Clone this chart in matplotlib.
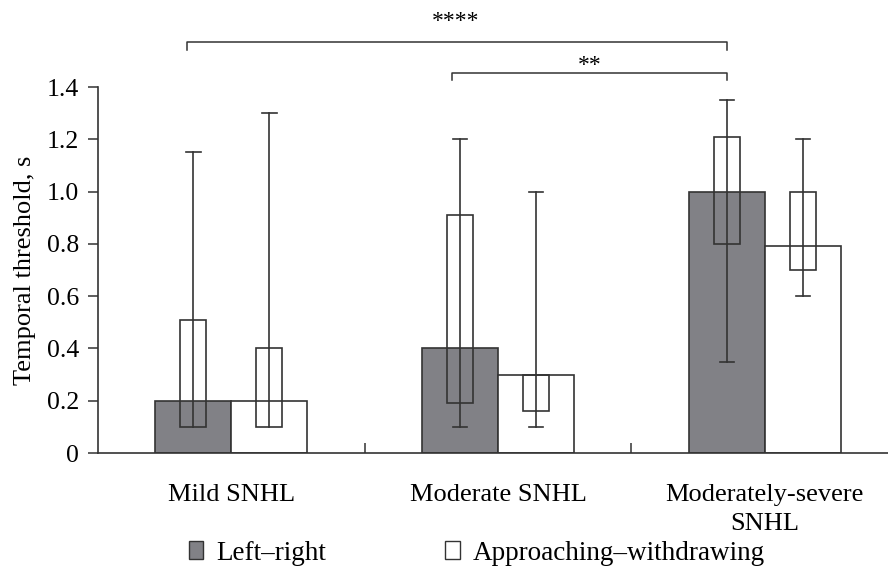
import numpy as np
import matplotlib
matplotlib.use("Agg")
import matplotlib.pyplot as plt
from matplotlib.patches import Patch

plt.rcParams["font.family"] = ["Liberation Serif", "DejaVu Serif"]

groups = ["Mild SNHL", "Moderate SNHL", "Moderately-severe\nSNHL"]
series = ["Left\u2013right", "Approaching\u2013withdrawing"]
median_lr = [0.2, 0.4, 1.0]
median_aw = [0.2, 0.3, 0.79]
q1_lr = [0.1, 0.19, 0.8]
q3_lr = [0.51, 0.91, 1.21]
q1_aw = [0.1, 0.16, 0.7]
q3_aw = [0.4, 0.3, 1.0]
min_lr = [0.1, 0.1, 0.35]
max_lr = [1.15, 1.2, 1.35]
min_aw = [0.1, 0.1, 0.6]
max_aw = [1.3, 1.0, 1.2]

GRAY = "#818186"
EDGE = "#333333"
BW = 0.285     # bar width
BOXW = 0.098   # IQR box width
CAPW = 0.054

fig = plt.figure(figsize=(8.88, 5.71), dpi=100)
ax = fig.add_axes([98 / 888, 1 - 453 / 571, 790 / 888, 366 / 571])

x = np.arange(len(groups)) + 0.5
x_lr = x - BW / 2
x_aw = x + BW / 2
ax.bar(x_lr, median_lr, BW, color=GRAY, edgecolor=EDGE, lw=1.2, zorder=2)
ax.bar(x_aw, median_aw, BW, color="white", edgecolor=EDGE, lw=1.2, zorder=2)


def box(xc, lo, hi, wmin, wmax):
    ax.bar(xc, hi - lo, BOXW, bottom=lo, facecolor="none", edgecolor=EDGE,
           lw=1.2, zorder=3)
    ax.plot([xc, xc], [wmin, wmax], color=EDGE, lw=1.2, zorder=3)
    ax.plot([xc - CAPW / 2, xc + CAPW / 2], [wmax, wmax], color=EDGE, lw=1.2, zorder=3)
    if wmin < lo - 1e-6:
        ax.plot([xc - CAPW / 2, xc + CAPW / 2], [wmin, wmin], color=EDGE, lw=1.2, zorder=3)


for i in range(len(groups)):
    box(x_lr[i], q1_lr[i], q3_lr[i], min_lr[i], max_lr[i])
    box(x_aw[i], q1_aw[i], q3_aw[i], min_aw[i], max_aw[i])

ax.set_xlim(0, 790 / 266.7)
ax.set_ylim(0, 1.4)
ax.spines["top"].set_visible(False)
ax.spines["right"].set_visible(False)
for s in ["left", "bottom"]:
    ax.spines[s].set_color(EDGE)
    ax.spines[s].set_linewidth(1.2)

yt = np.arange(0, 1.41, 0.2)
ax.set_yticks(yt)
ax.set_yticklabels(["0"] + [f"{v:.1f}" for v in yt[1:]])
ax.tick_params(axis="y", direction="out", length=7, width=1.1, color=EDGE,
               labelsize=18.5, pad=6.5)
ax.set_xticks([1, 2])
ax.set_xticklabels([])
ax.tick_params(axis="x", direction="in", length=7, width=1.1, color=EDGE)
ax.set_ylabel("Temporal threshold, s", fontsize=19)
ax.yaxis.set_label_coords(-0.078, 0.5)

for xc, lab in zip(x, groups):
    ax.text(xc, -0.12, lab, ha="center", va="top", fontsize=19, linespacing=1.38)

# significance brackets
def bracket(x0, x1, y, label, tx, ty):
    ax.plot([x0, x0, x1, x1], [y - 0.03, y, y, y - 0.03], color=EDGE, lw=1.1,
            clip_on=False)
    ax.text(tx, ty, label, ha="center", va="center", fontsize=17,
            clip_on=False)


bracket(x_lr[0] - 0.025, x_lr[2], 1.572, "****", 1.34, 1.65)
bracket(x_lr[1] - 0.03, x_lr[2], 1.455, "**", 1.843, 1.482)

handles = [Patch(facecolor=GRAY, edgecolor=EDGE, lw=1.0),
           Patch(facecolor="white", edgecolor=EDGE, lw=1.0)]
fig.legend(handles, series, loc="center", bbox_to_anchor=(477 / 888, 1 - 553 / 571),
           ncol=2, frameon=False, fontsize=19.5, handlelength=0.52, handleheight=0.6,
           handletextpad=0.48, columnspacing=4.4, borderpad=0.1)

fig.savefig("out.png", dpi=100)
